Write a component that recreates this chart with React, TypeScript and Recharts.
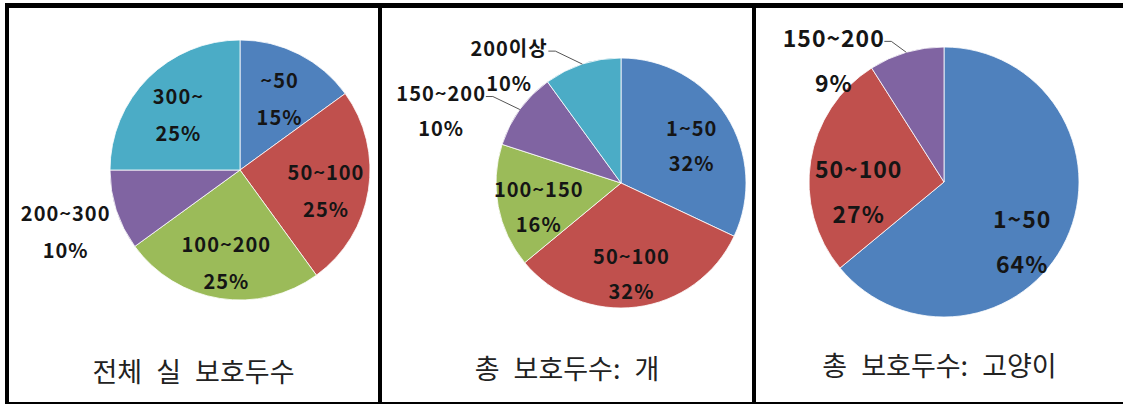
import React from "react"
import { PieChart, Pie, Cell } from "recharts"

// slice colours (Office palette)
const BLUE = "#4F81BD"
const RED = "#C0504D"
const GREEN = "#9BBB59"
const PURPLE = "#8064A2"
const CYAN = "#4BACC6"

// 전체 실 보호두수
const totalLabels = ["~50", "50~100", "100~200", "200~300", "300~"]
const totalShares = [15, 25, 25, 10, 25]
const totalColors = [BLUE, RED, GREEN, PURPLE, CYAN]

// 총 보호두수: 개
const dogLabels = ["1~50", "50~100", "100~150", "150~200", "200이상"]
const dogShares = [32, 32, 16, 10, 10]
const dogColors = [BLUE, RED, GREEN, PURPLE, CYAN]

// 총 보호두수: 고양이
const catLabels = ["1~50", "50~100", "150~200"]
const catShares = [64, 27, 9]
const catColors = [BLUE, RED, PURPLE]

const captions = ["전체 실 보호두수", "총 보호두수: 개", "총 보호두수: 고양이"]

const RADIAN = Math.PI / 180
const LABEL_FONT = "'Noto Sans CJK KR', 'Noto Sans', sans-serif"

interface PanelSpec {
  labels: string[]
  shares: number[]
  colors: string[]
  left: number
  width: number
  cx: number
  cy: number
  r: number
  fontSize: number
  gap: number
  labelR: number
  shiftY: number
  outDx: number
  outDy: number
  leader: boolean
  captionTop: number
}

function textWidth(s: string, fs: number, ls: number) {
  let w = 0
  for (const ch of s) {
    if (/[\uac00-\ud7a3]/.test(ch)) w += fs * 0.9
    else if (ch === "%") w += fs * 0.8
    else w += fs * 0.56
    w += ls
  }
  return w
}

function makeLabel(p: PanelSpec) {
  const ls = 1
  return (props: any) => {
    const { cx, cy, midAngle, outerRadius, index } = props
    const name = p.labels[index]
    const pct = `${p.shares[index]}%`
    const a = -midAngle * RADIAN
    const style = { fontFamily: LABEL_FONT, fontWeight: 700, fontSize: p.fontSize, letterSpacing: ls }
    if (p.shares[index] > 10) {
      const r = outerRadius * p.labelR
      const x = cx + r * Math.cos(a)
      const y = cy + r * Math.sin(a) + p.shiftY
      return (
        <g key={`in-${index}`}>
          <text x={x} y={y - p.gap / 2} textAnchor="middle" dominantBaseline="central" fill="#151515" style={style}>{name}</text>
          <text x={x} y={y + p.gap / 2} textAnchor="middle" dominantBaseline="central" fill="#151515" style={style}>{pct}</text>
        </g>
      )
    }
    const ex = cx + outerRadius * Math.cos(a)
    const ey = cy + outerRadius * Math.sin(a)
    const end = ex - p.outDx
    const ty = ey - p.outDy
    const mid = end - textWidth(name, p.fontSize, ls) / 2
    return (
      <g key={`out-${index}`}>
        {p.leader && (
          <polyline
            points={`${ex},${ey} ${end + 9},${ty + 4} ${end + 2},${ty + 4}`}
            fill="none"
            stroke="#555"
            strokeWidth={1}
          />
        )}
        <text x={mid} y={ty} textAnchor="middle" dominantBaseline="central" fill="#151515" style={style}>{name}</text>
        <text x={mid} y={ty + p.gap} textAnchor="middle" dominantBaseline="central" fill="#151515" style={style}>{pct}</text>
      </g>
    )
  }
}

const panels: PanelSpec[] = [
  {
    labels: totalLabels, shares: totalShares, colors: totalColors,
    left: 9, width: 369, cx: 231, cy: 162, r: 130,
    fontSize: 20, gap: 37, labelR: 0.67, shiftY: 6,
    outDx: 8, outDy: -2, leader: false, captionTop: 356,
  },
  {
    labels: dogLabels, shares: dogShares, colors: dogColors,
    left: 382, width: 370, cx: 239, cy: 175, r: 125,
    fontSize: 20, gap: 35, labelR: 0.67, shiftY: 7,
    outDx: 36, outDy: 17, leader: true, captionTop: 353,
  },
  {
    labels: catLabels, shares: catShares, colors: catColors,
    left: 756, width: 367, cx: 188, cy: 174, r: 135,
    fontSize: 23, gap: 45, labelR: 0.64, shiftY: 22,
    outDx: 24, outDy: 15, leader: true, captionTop: 350,
  },
]

function Panel({ p, caption }: { p: PanelSpec; caption: string }) {
  const data = p.labels.map((name, i) => ({ name, value: p.shares[i] }))
  return (
    <>
      <div style={{ position: "absolute", left: p.left, top: 8, width: p.width, height: 335 }}>
        <PieChart width={p.width} height={335} margin={{ top: 0, right: 0, bottom: 0, left: 0 }}>
          <Pie
            data={data}
            dataKey="value"
            nameKey="name"
            cx={p.cx}
            cy={p.cy}
            outerRadius={p.r}
            startAngle={90}
            endAngle={-270}
            stroke="#ffffff"
            strokeWidth={0.8}
            labelLine={false}
            label={makeLabel(p)}
            isAnimationActive={false}
          >
            {data.map((d, i) => (
              <Cell key={d.name} fill={p.colors[i]} />
            ))}
          </Pie>
        </PieChart>
      </div>
      <div
        style={{
          position: "absolute",
          left: p.left,
          top: p.captionTop,
          width: p.width,
          lineHeight: "30px",
          textAlign: "center",
          fontFamily: "'Noto Sans CJK KR', sans-serif",
          fontSize: 27,
          wordSpacing: 8,
          color: "#222",
        }}
      >
        {caption}
      </div>
    </>
  )
}

export default function App() {
  return (
    <div style={{ position: "absolute", left: 0, top: 0, width: 1123, height: 404, background: "#fff", overflow: "hidden" }}>
      {/* table frame */}
      <div style={{ position: "absolute", left: 5, top: 3, width: 1118, height: 5, background: "#000" }} />
      <div style={{ position: "absolute", left: 5, top: 3, width: 4, height: 401, background: "#000" }} />
      <div style={{ position: "absolute", left: 378, top: 3, width: 4, height: 401, background: "#000" }} />
      <div style={{ position: "absolute", left: 752, top: 3, width: 4, height: 401, background: "#000" }} />
      <div style={{ position: "absolute", left: 5, top: 402, width: 1118, height: 2, background: "#000" }} />
      {panels.map((p, i) => (
        <Panel key={i} p={p} caption={captions[i]} />
      ))}
    </div>
  )
}
